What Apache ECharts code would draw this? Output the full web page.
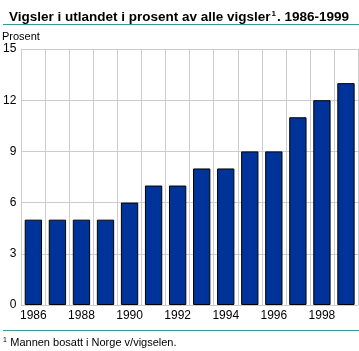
<!DOCTYPE html>
<html>
<head>
<meta charset="utf-8">
<script src="https://cdn.jsdelivr.net/npm/echarts@6/dist/echarts.min.js"></script>
<style>
  html, body { margin: 0; padding: 0; background: #fff; }
  #chart { width: 359px; height: 351px; }
</style>
</head>
<body>
<div id="chart"></div>
<script>
// data
var years = ['1986', '1987', '1988', '1989', '1990', '1991', '1992', '1993', '1994', '1995', '1996', '1997', '1998', '1999'];
var prosent = [5, 5, 5, 5, 6, 7, 7, 8, 8, 9, 9, 11, 12, 13];
var yTicks = [0, 3, 6, 9, 12, 15];

var chart = echarts.init(document.getElementById('chart'));
var font = '"Liberation Sans", Arial, sans-serif';

chart.setOption({
    animation: false,
    title: {
        text: '{t|Vigsler i utlandet i prosent av alle vigsler}{s|1}{t|. 1986-1999}',
        left: 4,
        top: 5,
        textStyle: {
            rich: {
                t: { fontFamily: font, fontSize: 13.5, fontWeight: 'bold', color: '#000' },
                s: { fontFamily: font, fontSize: 8, color: '#000', verticalAlign: 'top', padding: [0, 1, 6, 1] }
            }
        }
    },
    graphic: [
        { type: 'line', shape: { x1: 3, y1: 24.5, x2: 359, y2: 24.5 }, style: { stroke: '#339999', lineWidth: 1 } },
        { type: 'line', shape: { x1: 3, y1: 330.5, x2: 359, y2: 330.5 }, style: { stroke: '#339999', lineWidth: 1 } },
        { type: 'text', left: 2, top: 31, style: { text: 'Prosent', fontFamily: font, fontSize: 11, fill: '#000' } },
        {
            type: 'text', left: 3, top: 337,
            style: {
                text: '{s|1} {t|Mannen bosatt i Norge v/vigselen.}',
                rich: {
                    t: { fontFamily: font, fontSize: 11, fill: '#000' },
                    s: { fontFamily: font, fontSize: 7, fill: '#000', verticalAlign: 'top', padding: [0, 0, 4, 0] }
                }
            }
        }
    ],
    grid: { left: 19, right: 1, top: 49, bottom: 46, containLabel: false },
    xAxis: {
        type: 'category',
        data: years,
        axisLine: { show: true, lineStyle: { color: '#cccccc' } },
        axisTick: { show: false },
        splitLine: { show: true, interval: 0, lineStyle: { color: '#cccccc', width: 1 } },
        axisLabel: { interval: 1, color: '#000', fontFamily: font, fontSize: 12, margin: 5 }
    },
    yAxis: {
        type: 'value',
        min: yTicks[0],
        max: yTicks[yTicks.length - 1],
        interval: 3,
        axisLine: { show: true, lineStyle: { color: '#cccccc' } },
        axisTick: { show: false },
        splitLine: { show: true, lineStyle: { color: '#cccccc', width: 1 } },
        axisLabel: { color: '#000', fontFamily: font, fontSize: 12, margin: 5 }
    },
    series: [{
        type: 'bar',
        data: prosent,
        barWidth: '72%',
        itemStyle: { color: '#003399', borderColor: '#000', borderWidth: 1 }
    }]
});
</script>
</body>
</html>
